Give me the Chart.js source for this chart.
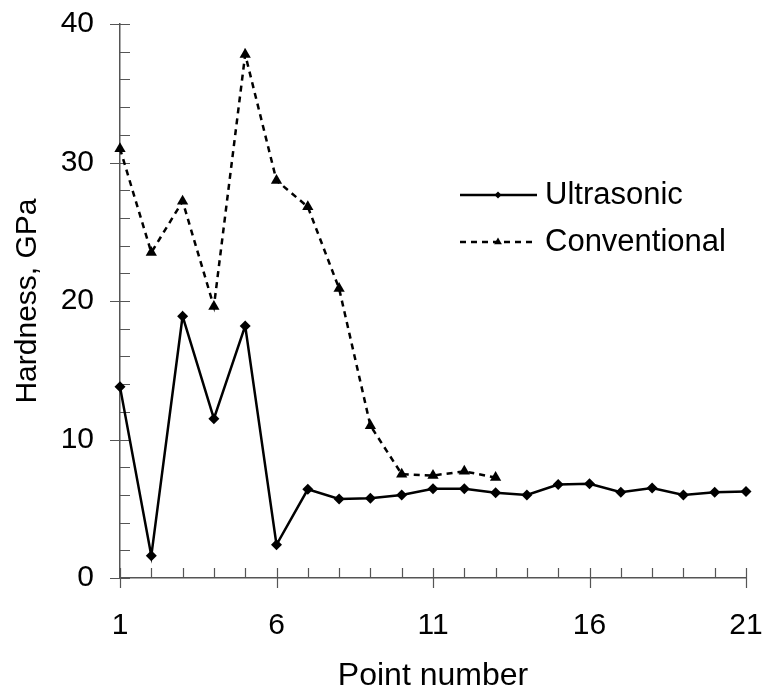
<!DOCTYPE html>
<html>
<head>
<meta charset="utf-8">
<script src="https://cdn.jsdelivr.net/npm/chart.js@4/dist/chart.umd.min.js"></script>
<style>
  html, body { margin: 0; padding: 0; background: #fff; }
  #wrap { width: 764px; height: 698px; }
</style>
</head>
<body>
<div id="wrap"><canvas id="hardnessChart" width="764" height="698"></canvas></div>
<script>
const pointNumbers = [1, 2, 3, 4, 5, 6, 7, 8, 9, 10, 11, 12, 13, 14, 15, 16, 17, 18, 19, 20, 21];
const ultrasonic = [13.8, 1.6, 18.9, 11.5, 18.2, 2.4, 6.4, 5.7, 5.75, 6.0, 6.45, 6.45, 6.15, 6.0, 6.75, 6.8, 6.2, 6.5, 6.0, 6.2, 6.25];
const conventional = [31.0, 23.5, 27.2, 19.6, 37.8, 28.7, 26.8, 20.9, 11.0, 7.5, 7.4, 7.7, 7.25];
const xTickLabels = [1, 6, 11, 16, 21];
const yTickLabels = [0, 10, 20, 30, 40];

const FONT = 'Liberation Sans, Arial, sans-serif';
const FONT_SIZE = 30;
const AXIS_COLOR = '#555';

function toPoints(values) {
    return values.map((v, i) => ({ x: pointNumbers[i], y: v }));
}

// tick marks: major ones cross the axis, minor ones sit inside the plot
const tickMarks = {
    id: 'tickMarks',
    beforeDatasetsDraw(chart) {
        const ctx = chart.ctx;
        const xs = chart.scales.x, ys = chart.scales.y;
        const area = chart.chartArea;
        ctx.save();
        ctx.strokeStyle = AXIS_COLOR;
        ctx.lineWidth = 1.2;
        ctx.beginPath();
        pointNumbers.forEach(n => {
            const px = Math.round(xs.getPixelForValue(n)) + 0.5;
            const major = xTickLabels.includes(n);
            ctx.moveTo(px, area.bottom - 10);
            ctx.lineTo(px, area.bottom + (major ? 10 : 0));
        });
        for (let v = 0; v <= 40; v += 2) {
            const py = Math.round(ys.getPixelForValue(v)) + 0.5;
            const major = yTickLabels.includes(v);
            ctx.moveTo(area.left - (major ? 10 : 0), py);
            ctx.lineTo(area.left + 10, py);
        }
        ctx.stroke();
        ctx.restore();
    }
};

// legend drawn inside the plot, line sample with marker like the original
const innerLegend = {
    id: 'innerLegend',
    afterDatasetsDraw(chart) {
        const ctx = chart.ctx;
        const rows = [
            { ds: chart.data.datasets[0], y: 195, r: 3.5 },
            { ds: chart.data.datasets[1], y: 242, r: 4.5 }
        ];
        ctx.save();
        rows.forEach(row => {
            ctx.strokeStyle = '#000';
            ctx.lineWidth = row.ds.borderWidth;
            ctx.setLineDash(row.ds.borderDash || []);
            ctx.beginPath();
            ctx.moveTo(460, row.y);
            ctx.lineTo(537, row.y);
            ctx.stroke();
            ctx.setLineDash([]);
            ctx.fillStyle = '#000';
            Chart.helpers.drawPoint(ctx, {
                pointStyle: row.ds.pointStyle,
                radius: row.r,
                borderWidth: 0
            }, 498, row.y);
            ctx.font = '31px ' + FONT;
            ctx.textBaseline = 'middle';
            ctx.textAlign = 'left';
            ctx.fillText(row.ds.label, 545, row.y);
        });
        ctx.restore();
    }
};

function noPad(scale) {
    scale.paddingLeft = 0;
    scale.paddingRight = 0;
    scale.paddingTop = 0;
    scale.paddingBottom = 0;
}

const ctx = document.getElementById('hardnessChart').getContext('2d');
new Chart(ctx, {
    type: 'line',
    data: {
        datasets: [{
            label: 'Ultrasonic',
            data: toPoints(ultrasonic),
            borderColor: '#000',
            backgroundColor: '#000',
            borderWidth: 2.5,
            pointStyle: 'rectRot',
            pointRadius: 5.5,
            pointBorderWidth: 0,
            tension: 0,
            clip: false
        }, {
            label: 'Conventional',
            data: toPoints(conventional),
            borderColor: '#000',
            backgroundColor: '#000',
            borderWidth: 2.5,
            borderDash: [6, 5],
            pointStyle: 'triangle',
            pointRadius: 6.5,
            pointBorderWidth: 0,
            tension: 0,
            clip: false
        }]
    },
    options: {
        responsive: false,
        animation: false,
        layout: { padding: { top: 24, right: 18, left: 0, bottom: 0 } },
        plugins: {
            legend: { display: false },
            tooltip: { enabled: false }
        },
        scales: {
            x: {
                type: 'linear',
                min: 1,
                max: 21,
                afterBuildTicks: (scale) => { scale.ticks = xTickLabels.map(v => ({ value: v })); },
                afterFit: (scale) => { scale.height = 120; noPad(scale); },
                grid: { display: false, drawTicks: false },
                border: { display: true, color: AXIS_COLOR, width: 1.5 },
                ticks: { color: '#000', font: { family: FONT, size: FONT_SIZE }, padding: 30, maxRotation: 0 },
                title: { display: true, text: 'Point number', color: '#000', font: { family: FONT, size: 32 }, padding: { bottom: 3 } }
            },
            y: {
                min: 0,
                max: 40,
                afterBuildTicks: (scale) => { scale.ticks = yTickLabels.map(v => ({ value: v })); },
                afterFit: (scale) => { scale.width = 120; noPad(scale); },
                grid: { display: false, drawTicks: false },
                border: { display: true, color: AXIS_COLOR, width: 1.5 },
                ticks: { color: '#000', font: { family: FONT, size: FONT_SIZE }, padding: 26 },
                title: { display: true, text: 'Hardness, GPa', color: '#000', font: { family: FONT, size: FONT_SIZE }, padding: { top: 10 } }
            }
        }
    },
    plugins: [tickMarks, innerLegend]
});
</script>
</body>
</html>
